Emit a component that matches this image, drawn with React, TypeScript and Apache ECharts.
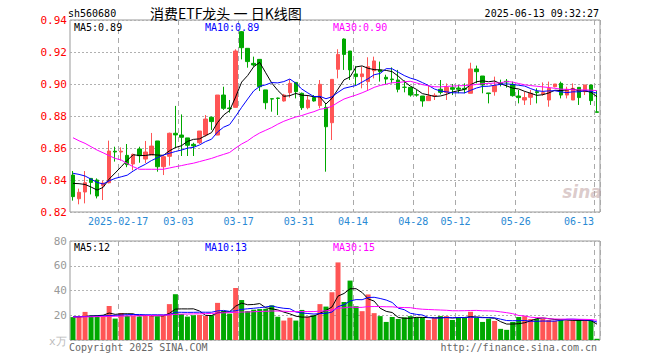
import React, { useEffect, useRef } from 'react';
import * as echarts from 'echarts';

const dates = [
  '2025-02-05','2025-02-06','2025-02-07','2025-02-10','2025-02-11','2025-02-12','2025-02-13','2025-02-14','2025-02-17','2025-02-18',
  '2025-02-19','2025-02-20','2025-02-21','2025-02-24','2025-02-25','2025-02-26','2025-02-27','2025-02-28','2025-03-03','2025-03-04',
  '2025-03-05','2025-03-06','2025-03-07','2025-03-10','2025-03-11','2025-03-12','2025-03-13','2025-03-14','2025-03-17','2025-03-18',
  '2025-03-19','2025-03-20','2025-03-21','2025-03-24','2025-03-25','2025-03-26','2025-03-27','2025-03-28','2025-03-31','2025-04-01',
  '2025-04-02','2025-04-03','2025-04-07','2025-04-08','2025-04-09','2025-04-10','2025-04-11','2025-04-14','2025-04-15','2025-04-16',
  '2025-04-17','2025-04-18','2025-04-21','2025-04-22','2025-04-23','2025-04-24','2025-04-25','2025-04-28','2025-04-29','2025-04-30',
  '2025-05-06','2025-05-07','2025-05-08','2025-05-09','2025-05-12','2025-05-13','2025-05-14','2025-05-15','2025-05-16','2025-05-19',
  '2025-05-20','2025-05-21','2025-05-22','2025-05-23','2025-05-26','2025-05-27','2025-05-28','2025-05-29','2025-05-30','2025-06-03',
  '2025-06-04','2025-06-05','2025-06-06','2025-06-09','2025-06-10','2025-06-11','2025-06-12','2025-06-13',
];

const opens = [
  0.8431,0.8283,0.8325,0.8410,0.8400,0.8365,0.8383,0.8580,0.8575,0.8554,
  0.8500,0.8594,0.8531,0.8556,0.8644,0.8483,0.8548,0.8692,0.8681,0.8663,
  0.8623,0.8633,0.8681,0.8792,0.8681,0.8931,0.8850,0.8854,0.9327,0.9223,
  0.9129,0.9154,0.8963,0.8908,0.8912,0.8894,0.8946,0.9010,0.8942,0.8852,
  0.8915,0.8865,0.8854,0.8758,0.9092,0.9281,0.9206,0.9063,0.9046,0.9015,
  0.9083,0.9088,0.9042,0.9031,0.9025,0.8980,0.8979,0.8933,0.8925,0.8896,
  0.8925,0.8967,0.8948,0.8977,0.8975,0.8973,0.8942,0.9094,0.9050,0.8944,
  0.8952,0.9006,0.9017,0.8998,0.8925,0.8900,0.8917,0.8952,0.8938,0.8900,
  0.8983,0.9004,0.8931,0.8900,0.8979,0.8952,0.8994,0.8826,
];
const closes = [
  0.8296,0.8323,0.8383,0.8385,0.8300,0.8381,0.8581,0.8575,0.8580,0.8496,
  0.8560,0.8552,0.8575,0.8612,0.8483,0.8546,0.8692,0.8682,0.8667,0.8617,
  0.8613,0.8706,0.8781,0.8765,0.8931,0.8848,0.8846,0.9206,0.9227,0.9140,
  0.9119,0.8983,0.8883,0.8906,0.8910,0.8931,0.9004,0.8952,0.8852,0.8900,
  0.8894,0.8998,0.8733,0.9029,0.9185,0.9185,0.9088,0.9046,0.9063,0.9108,
  0.9144,0.9077,0.9031,0.9027,0.8967,0.8979,0.8931,0.8931,0.8894,0.8925,
  0.8929,0.8948,0.8979,0.8967,0.8967,0.8967,0.9094,0.9077,0.8994,0.8940,
  0.8990,0.9002,0.9013,0.8927,0.8915,0.8915,0.8942,0.8946,0.8946,0.8973,
  0.9000,0.8931,0.8967,0.8973,0.8915,0.8994,0.8896,0.8823,
];
const lows = [
  0.8271,0.8248,0.8254,0.8310,0.8285,0.8275,0.8379,0.8515,0.8521,0.8480,
  0.8460,0.8508,0.8506,0.8556,0.8452,0.8431,0.8490,0.8600,0.8550,0.8550,
  0.8550,0.8625,0.8671,0.8713,0.8681,0.8838,0.8821,0.8854,0.9154,0.9102,
  0.9108,0.8956,0.8842,0.8827,0.8806,0.8890,0.8915,0.8910,0.8838,0.8842,
  0.8890,0.8848,0.8452,0.8650,0.9035,0.9088,0.9025,0.8994,0.8973,0.8963,
  0.9035,0.9015,0.8998,0.9004,0.8948,0.8948,0.8921,0.8921,0.8858,0.8896,
  0.8900,0.8935,0.8900,0.8931,0.8942,0.8942,0.8942,0.9004,0.8942,0.8879,
  0.8927,0.8985,0.8977,0.8921,0.8879,0.8869,0.8869,0.8879,0.8927,0.8858,
  0.8979,0.8910,0.8910,0.8900,0.8869,0.8931,0.8869,0.8823,
];
const highs = [
  0.8456,0.8346,0.8456,0.8412,0.8410,0.8396,0.8646,0.8608,0.8604,0.8625,
  0.8565,0.8608,0.8644,0.8694,0.8644,0.8546,0.8696,0.8863,0.8810,0.8663,
  0.8633,0.8706,0.8806,0.8796,0.8931,0.8983,0.8900,0.9217,0.9331,0.9223,
  0.9171,0.9154,0.8963,0.8908,0.8915,0.8938,0.9029,0.9010,0.8946,0.8931,
  0.8931,0.9025,0.8879,0.9029,0.9217,0.9285,0.9206,0.9113,0.9108,0.9167,
  0.9171,0.9140,0.9058,0.9104,0.9088,0.9023,0.8979,0.8963,0.8925,0.8988,
  0.8942,0.9025,0.9004,0.9000,0.8994,0.9004,0.9133,0.9115,0.9050,0.8944,
  0.9046,0.9027,0.9031,0.9015,0.8963,0.8952,0.8963,0.8973,0.9010,0.9015,
  0.9000,0.9015,0.8983,0.9004,0.8979,0.8994,0.8994,0.8958,
];
const volumes = [
  18.5,18.5,22.7,19.8,19.0,20.0,27.5,17.3,21.8,19.5,
  19.7,18.9,20.0,20.0,19.0,19.7,29.0,37.0,21.0,18.9,
  20.0,20.3,19.4,20.0,30.0,23.4,21.3,42.0,32.3,23.4,
  24.5,25.0,25.2,28.0,18.8,15.7,18.0,15.7,24.3,18.9,
  20.0,29.0,27.0,38.6,62.7,30.7,48.0,27.3,23.3,36.8,
  21.7,19.3,14.6,18.6,17.0,18.3,19.3,18.3,18.3,16.2,
  17.8,19.3,19.3,16.2,18.3,17.8,22.8,17.8,14.6,17.2,
  15.4,9.0,8.2,14.6,18.6,19.3,17.0,17.0,17.0,16.2,
  15.6,16.2,15.6,15.6,16.2,15.6,15.6,1.0,
];

// Moving-average values visible before enough in-window history exists
const ma5Head = [0.8379, 0.8377, 0.8372, 0.8356];
const ma10Head = [0.8442, 0.8435, 0.8425, 0.8405, 0.8385, 0.8375, 0.8395, 0.8410, 0.8420];
const ma30Head = [
  0.8664, 0.8645, 0.8629, 0.8608, 0.8587, 0.8570, 0.8552, 0.8535, 0.8525, 0.8503,
  0.8483, 0.8467, 0.8467, 0.8467, 0.8467, 0.8467, 0.8475, 0.8483, 0.8490, 0.8498,
  0.8505, 0.8515, 0.8525, 0.8535, 0.8548, 0.8560, 0.8572, 0.8600, 0.8625,
];
const volMa5Head = [18.6, 18.6, 19.0, 19.4];
const volMa10Head = [18.8, 18.9, 19.0, 19.2, 19.3, 19.5, 19.7, 19.9, 20.1];
const volMa30Head = [
  18.5, 18.6, 18.7, 18.8, 18.9, 19.0, 19.1, 19.2, 19.3, 19.4,
  19.5, 19.6, 19.7, 19.8, 19.9, 20.0, 20.3, 20.7, 20.9, 21.0,
  21.1, 21.2, 21.3, 21.5, 21.8, 22.0, 22.1, 22.4, 22.6,
];

const tickDates = ['2025-02-17','2025-03-03','2025-03-17','2025-03-31','2025-04-14','2025-04-28','2025-05-12','2025-05-26','2025-06-13'];
const tickLabels = ['2025-02-17','03-03','03-17','03-31','04-14','04-28','05-12','05-26','06-13'];

const priceTicks = { min: 0.82, max: 0.94, step: 0.02 };
const volTicks = { min: 0, max: 80, step: 20 };

const priceLegend = ['MA5:0.89', 'MA10:0.89', 'MA30:0.90'];
const volLegend = ['MA5:12', 'MA10:13', 'MA30:15'];
const symbolText = 'sh560680';
const titleText = '消费ETF龙头 一 日K线图';
const timeText = '2025-06-13 09:32:27';
const copyrightText = 'Copyright 2025 SINA.COM';
const urlText = 'http://finance.sina.com.cn';
const volUnitText = 'x万';

const UP = '#ff5555';
const DOWN = '#00a800';
const MONO = '"DejaVu Sans Mono", "Liberation Mono", monospace';

function movingAverage(values: number[], n: number, head: number[]): number[] {
  return values.map((_, i) => {
    if (i < n - 1) return head[i];
    let s = 0;
    for (let k = i - n + 1; k <= i; k++) s += values[k];
    return +(s / n).toFixed(4);
  });
}

export default function App() {
  const ref = useRef<HTMLDivElement>(null);

  useEffect(() => {
    if (!ref.current) return;
    const chart = echarts.init(ref.current, undefined, { renderer: 'svg' });

    const tickSet = new Set(tickDates.map((d) => dates.indexOf(d)));
    const lastIdx = dates.length - 1;
    const kData = dates.map((_, i) => [opens[i], closes[i], lows[i], highs[i]]);
    const volData = volumes.map((v, i) => ({
      value: v,
      itemStyle: { color: closes[i] >= opens[i] ? UP : DOWN },
    }));

    const ma5 = movingAverage(closes, 5, ma5Head);
    const ma10 = movingAverage(closes, 10, ma10Head);
    const ma30 = movingAverage(closes, 30, ma30Head);
    const vma5 = movingAverage(volumes, 5, volMa5Head);
    const vma10 = movingAverage(volumes, 10, volMa10Head);
    const vma30 = movingAverage(volumes, 30, volMa30Head);

    const splitInterval = (index: number) => tickSet.has(index);
    const vSplit = {
      show: true,
      interval: splitInterval,
      lineStyle: { color: '#aaaaaa', width: 1, type: [5, 4] as any },
    };
    const hSplit = {
      show: true,
      lineStyle: { color: '#b0b0b0', width: 1, type: [2, 2] as any },
    };

    const lineSeries = (name: string, data: number[], color: string, axis: number) => ({
      name,
      type: 'line',
      xAxisIndex: axis,
      yAxisIndex: axis,
      data,
      showSymbol: false,
      symbol: 'none',
      silent: true,
      lineStyle: { color, width: 1 },
      z: 5,
    });

    const txt = (text: string, x: number, y: number, fill: string, opts: any = {}) => ({
      type: 'text',
      x,
      y,
      silent: true,
      style: {
        text,
        fill,
        font: opts.font || `10px ${MONO}`,
        align: opts.align || 'left',
        verticalAlign: 'middle',
      },
      z: 100,
    });

    const option: any = {
      animation: false,
      backgroundColor: '#ffffff',
      textStyle: { fontFamily: MONO },
      grid: [
        { left: 70, right: 60, top: 20, height: 192, show: true, borderColor: '#999999', borderWidth: 1 },
        { left: 70, right: 60, top: 241, height: 99, show: true, borderColor: '#999999', borderWidth: 1 },
      ],
      xAxis: [
        {
          type: 'category',
          gridIndex: 0,
          data: dates,
          boundaryGap: true,
          axisLine: { show: false },
          axisTick: { show: false },
          axisLabel: {
            interval: (index: number) => tickSet.has(index),
            formatter: (value: string, index: number) => {
              const k = tickDates.indexOf(value);
              const label = k >= 0 ? tickLabels[k] : '';
              return index === lastIdx ? label + '      ' : label + ' ';
            },
            color: '#2a8ad4',
            fontSize: 10,
            fontFamily: MONO,
            margin: 4,
          },
          splitLine: vSplit,
        },
        {
          type: 'category',
          gridIndex: 1,
          data: dates,
          boundaryGap: true,
          axisLine: { show: false },
          axisTick: { show: false },
          axisLabel: { show: false },
          splitLine: vSplit,
        },
      ],
      yAxis: [
        {
          type: 'value',
          gridIndex: 0,
          min: priceTicks.min,
          max: priceTicks.max,
          interval: priceTicks.step,
          axisLine: { show: false },
          axisTick: { show: false },
          axisLabel: {
            color: '#ff0000',
            fontSize: 11,
            fontFamily: MONO,
            margin: 3,
            formatter: (v: number) => v.toFixed(2),
          },
          splitLine: hSplit,
        },
        {
          type: 'value',
          gridIndex: 1,
          min: volTicks.min,
          max: volTicks.max,
          interval: volTicks.step,
          axisLine: { show: false },
          axisTick: { show: false },
          axisLabel: {
            color: '#999999',
            fontSize: 11,
            fontFamily: MONO,
            margin: 3,
            formatter: (v: number) => (v === 0 ? '' : String(v)),
          },
          splitLine: hSplit,
        },
      ],
      series: [
        {
          name: 'K',
          type: 'candlestick',
          xAxisIndex: 0,
          yAxisIndex: 0,
          data: kData,
          barWidth: 4,
          silent: true,
          itemStyle: {
            color: UP,
            color0: DOWN,
            borderColor: UP,
            borderColor0: DOWN,
            borderWidth: 1,
          },
          z: 3,
        },
        lineSeries('MA5', ma5, '#000000', 0),
        lineSeries('MA10', ma10, '#0000ff', 0),
        lineSeries('MA30', ma30, '#ff00ff', 0),
        {
          name: 'VOL',
          type: 'bar',
          xAxisIndex: 1,
          yAxisIndex: 1,
          data: volData,
          barWidth: 5,
          silent: true,
          z: 3,
        },
        lineSeries('VMA5', vma5, '#000000', 1),
        lineSeries('VMA10', vma10, '#0000ff', 1),
        lineSeries('VMA30', vma30, '#ff00ff', 1),
      ],
      graphic: [
        txt(symbolText, 68, 13, '#000000'),
        txt(titleText, 150, 13, '#000000', { font: '14px "Noto Sans CJK SC"' }),
        txt(timeText, 599, 13, '#000000', { align: 'right' }),
        txt(priceLegend[0], 74, 27, '#000000'),
        txt(priceLegend[1], 205, 27, '#0000ff'),
        txt(priceLegend[2], 333, 27, '#ff00ff'),
        txt(volLegend[0], 74, 247, '#000000'),
        txt(volLegend[1], 205, 247, '#0000ff'),
        txt(volLegend[2], 333, 247, '#ff00ff'),
        txt(volUnitText, 49, 341, '#bbbbbb', { font: `11px ${MONO}` }),
        txt(copyrightText, 69, 347, '#666666'),
        txt(urlText, 597, 347, '#666666', { align: 'right' }),
        {
          type: 'text',
          x: 582,
          y: 192,
          silent: true,
          z: 1,
          style: {
            text: 'sina',
            fill: 'rgba(190,160,160,0.55)',
            font: 'italic bold 17px "DejaVu Sans"',
            align: 'center',
            verticalAlign: 'middle',
          },
        },
      ],
    };

    chart.setOption(option);
    return () => chart.dispose();
  }, []);

  return (
    <div
      ref={ref}
      style={{ position: 'fixed', left: 0, top: 0, width: 660, height: 360, background: '#fff' }}
    />
  );
}
